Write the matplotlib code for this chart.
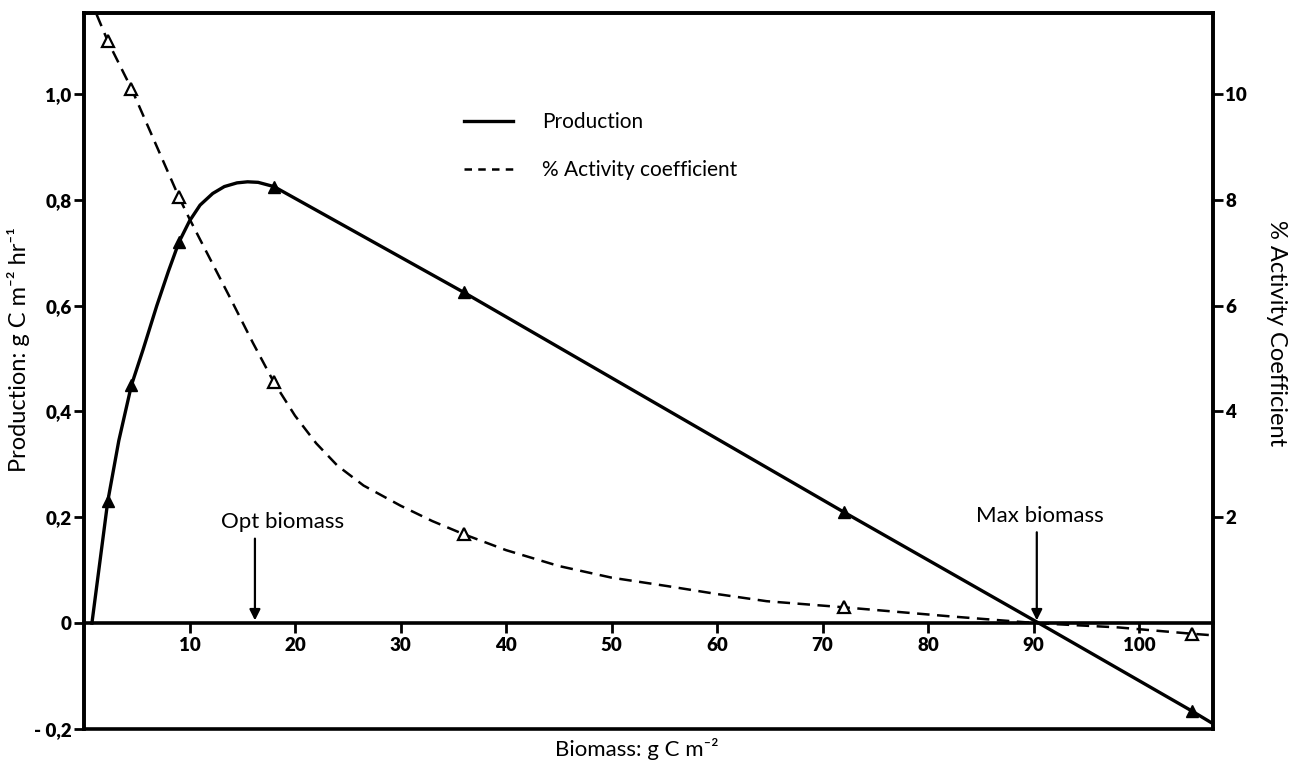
import matplotlib.pyplot as plt
from matplotlib.lines import Line2D

plt.rcParams['font.family'] = ['Lato', 'DejaVu Sans']

# production curve (left axis)
prod_x = [0.75, 1.5, 2.25, 3.3, 4.5, 5.6, 6.9, 8, 9, 10, 11, 12.2, 13.3, 14.5, 15.5, 16.5, 18,
          36, 72, 90.5, 105, 107]
prod_y = [0, 0.115, 0.23, 0.345, 0.45, 0.517, 0.60, 0.665, 0.72, 0.76, 0.79, 0.812, 0.825, 0.832,
          0.834, 0.833, 0.825, 0.625, 0.21, 0, -0.166, -0.19]
# measured points (filled triangles)
prod_pts_x = [2.25, 4.5, 9, 18, 36, 72, 105]
prod_pts_y = [0.23, 0.45, 0.72, 0.825, 0.625, 0.21, -0.166]

# % activity coefficient (right axis)
act_x = [1.2, 2.25, 4.5, 9, 9.9, 11, 12.5, 14.1, 16, 18, 20, 22, 24, 26.5, 30, 33, 36,
         40, 45, 50, 55.3, 60, 64.7, 72, 82, 90.3, 98, 105, 107]
act_y = [11.5, 11.0, 10.1, 8.05, 7.68, 7.25, 6.67, 6.05, 5.3, 4.55, 3.92, 3.4, 2.98, 2.6, 2.22,
         1.93, 1.68, 1.38, 1.08, 0.86, 0.70, 0.55, 0.415, 0.30, 0.13, 0.0, -0.08, -0.2, -0.23]
act_pts_x = [2.25, 4.5, 9, 18, 36, 72, 105]
act_pts_y = [11.0, 10.1, 8.05, 4.55, 1.68, 0.30, -0.2]

opt_biomass = 16.2
max_biomass = 90.3

x_ticks = [10, 20, 30, 40, 50, 60, 70, 80, 90, 100]
left_ticks = [-0.2, 0, 0.2, 0.4, 0.6, 0.8, 1.0]
left_labels = ['- 0,2', '0', '0,2', '0,4', '0,6', '0,8', '1,0']
right_ticks = [2, 4, 6, 8, 10]

fig = plt.figure(figsize=(12.97, 7.62), dpi=100)
ax = fig.add_axes([84 / 1297, 33 / 762, 1129 / 1297, 716 / 762])
ax2 = ax.twinx()

ax.set_xlim(0, 107)
ax.set_ylim(-0.2, 1.153)
ax2.set_ylim(-2, 11.53)

lw_frame = 2.6
for a in (ax, ax2):
    for s in a.spines.values():
        s.set_linewidth(lw_frame)

# x axis sits on the zero line, frame closed at the bottom
ax.spines['bottom'].set_position(('data', 0))
ax.axhline(-0.2, color='k', lw=lw_frame, clip_on=False, zorder=3)
ax2.spines['bottom'].set_visible(False)

tick_font = dict(fontweight='heavy', fontsize=13.5)
ax.set_xticks(x_ticks)
ax.set_xticklabels([str(v) for v in x_ticks], **tick_font)
ax.tick_params(axis='x', direction='out', length=7, width=2, pad=3)
ax.set_yticks(left_ticks)
ax.set_yticklabels(left_labels, **tick_font)
ax.tick_params(axis='y', direction='out', length=7, width=2, pad=2)
ax2.set_yticks(right_ticks)
ax2.set_yticklabels([str(v) for v in right_ticks], **tick_font)
ax2.tick_params(axis='y', direction='out', length=7, width=2, pad=2)

# curves
ax.plot(prod_x, prod_y, color='k', lw=2.4, solid_joinstyle='round', zorder=4)
ax.plot(prod_pts_x, prod_pts_y, '^', color='k', ms=9, zorder=5)
ax2.plot(act_x, act_y, color='k', lw=1.8, dashes=(5, 3), zorder=4)
ax2.plot(act_pts_x, act_pts_y, '^', mfc='white', mec='k', mew=1.6, ms=9, ls='none', zorder=5)

# annotations
ax.annotate('', xy=(opt_biomass, 0), xytext=(opt_biomass, 0.165),
            arrowprops=dict(arrowstyle='-|>', color='k', lw=1.6, mutation_scale=16))
ax.text(opt_biomass + 2.6, 0.192, 'Opt biomass', ha='center', va='center', fontsize=16)
ax.annotate('', xy=(max_biomass, 0), xytext=(max_biomass, 0.177),
            arrowprops=dict(arrowstyle='-|>', color='k', lw=1.6, mutation_scale=16))
ax.text(max_biomass + 0.3, 0.202, 'Max biomass', ha='center', va='center', fontsize=16)

# legend
handles = [Line2D([], [], color='k', lw=2.4),
           Line2D([], [], color='k', lw=1.8, dashes=(3, 2.5))]
ax.legend(handles, ['Production', '% Activity coefficient'], loc='upper left',
          bbox_to_anchor=(0.32, 0.888), frameon=False, fontsize=15,
          handlelength=2.35, handletextpad=1.4, labelspacing=1.35, borderpad=0.4)

ax.set_xlabel('Biomass: g C m⁻²', fontsize=16)
ax.xaxis.set_label_coords(0.49, -0.012)
ax.xaxis.label.set_va('top')
ax.set_ylabel('Production: g C m⁻² hr⁻¹', fontsize=17)
ax.yaxis.set_label_coords(-0.048, 0.53)
ax2.set_ylabel('% Activity Coefficient', fontsize=17, rotation=-90, va='center')
ax2.yaxis.set_label_coords(1.056, 0.553)

fig.savefig('out.png', dpi=100)
